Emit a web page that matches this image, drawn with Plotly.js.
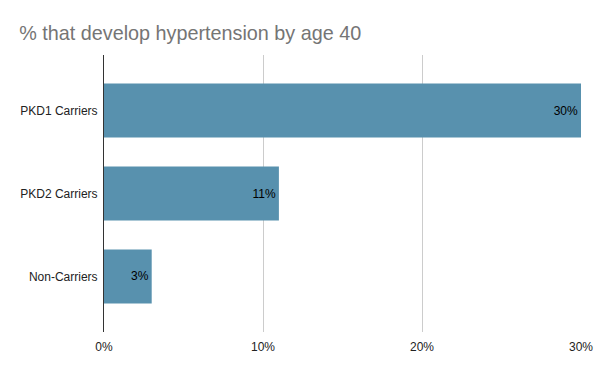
<!DOCTYPE html>
<html><head><meta charset="utf-8">
<script src="https://cdn.plot.ly/plotly-3.0.1.min.js"></script>
<style>html,body{margin:0;padding:0;background:#fff}</style>
</head><body><div id="chart" style="width:600px;height:371px"></div>
<script>
const categories = ["PKD1 Carriers", "PKD2 Carriers", "Non-Carriers"];
const values = [30, 11, 3];
const labels = ["30%", "11%", "3%"];
const xTickVals = [0, 10, 20, 30];
const xTickText = ["0%", "10%", "20%", "30%"];
const F = "Arial, Liberation Sans, sans-serif";

Plotly.newPlot("chart", [{
  type: "bar", orientation: "h",
  x: values, y: categories,
  text: labels, textposition: "inside", insidetextanchor: "end",
  textfont: {family: F, size: 12, color: "#000"},
  marker: {color: "#5891ae"},
  hoverinfo: "none", cliponaxis: false
}], {
  width: 600, height: 371,
  margin: {l: 104, r: 19, t: 55, b: 39},
  paper_bgcolor: "#fff", plot_bgcolor: "#fff",
  bargap: 0.35,
  showlegend: false,
  title: {text: "% that develop hypertension by age 40", x: 0.032, xanchor: "left", y: 0.91, yanchor: "middle",
          font: {family: F, size: 19.8, color: "#757575"}},
  xaxis: {range: [0, 30], tickvals: xTickVals, ticktext: xTickText,
          showgrid: true, gridcolor: "#cccccc", gridwidth: 1, zeroline: false,
          showline: false, ticks: "", ticklabelstandoff: 6,
          tickfont: {family: F, size: 12, color: "#222"}},
  yaxis: {type: "category", categoryorder: "array", categoryarray: categories,
          range: [2.67, -0.67], showline: true, linecolor: "#333", linewidth: 1,
          showgrid: false, zeroline: false, ticks: "", ticklabelstandoff: 3,
          tickfont: {family: F, size: 12, color: "#222"}}
}, {displayModeBar: false, staticPlot: true});
</script></body></html>
